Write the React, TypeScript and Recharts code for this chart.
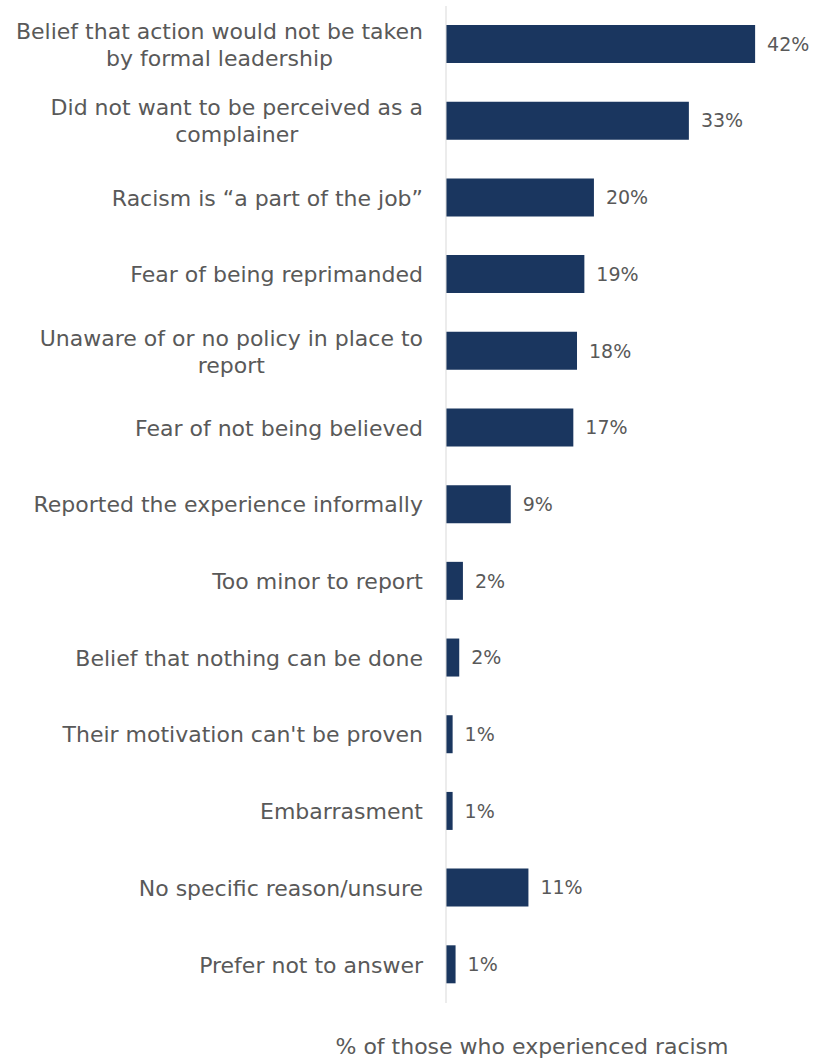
import React from 'react';
import { BarChart, Bar, XAxis, YAxis, LabelList } from 'recharts';

const categories = [
  'Belief that action would not be taken\nby formal leadership',
  'Did not want to be perceived as a\ncomplainer',
  'Racism is \u201ca part of the job\u201d',
  'Fear of being reprimanded',
  'Unaware of or no policy in place to\nreport',
  'Fear of not being believed',
  'Reported the experience informally',
  'Too minor to report',
  'Belief that nothing can be done',
  "Their motivation can't be proven",
  'Embarrasment',
  'No specific reason/unsure',
  'Prefer not to answer',
];
const values = [42.0, 33.0, 20.1, 18.8, 17.8, 17.3, 8.8, 2.3, 1.8, 0.9, 0.9, 11.2, 1.3];
const valueLabels = ['42%', '33%', '20%', '19%', '18%', '17%', '9%', '2%', '2%', '1%', '1%', '11%', '1%'];
const axisTitle = '% of those who experienced racism';

const data = categories.map((c, i) => ({ name: c, value: values[i], label: valueLabels[i] }));

const FONT = 'DejaVu Sans';
const FS = 22;
const LABEL_FS = 19;
const TEXT_COLOR = '#595959';
const BAR_COLOR = '#1a365f';

let ctx: CanvasRenderingContext2D | null = null;
function measure(s: string): number {
  if (!ctx) ctx = document.createElement('canvas').getContext('2d');
  if (!ctx) return s.length * FS * 0.55;
  ctx.font = `${FS}px "${FONT}"`;
  return ctx.measureText(s).width;
}

const CategoryTick = (props: any) => {
  const { x, y, payload } = props;
  const lines = String(payload.value).split('\n');
  const widths = lines.map(measure);
  const W = Math.max(...widths);
  const lh = 27;
  const start = y - ((lines.length - 1) * lh) / 2;
  return (
    <g>
      {lines.map((ln, i) =>
        lines.length === 1 ? (
          <text key={i} x={x} y={start + i * lh} dy="0.36em" textAnchor="end" fill={TEXT_COLOR} fontSize={FS} fontFamily={FONT}>
            {ln}
          </text>
        ) : (
          <text key={i} x={x - W / 2} y={start + i * lh} dy="0.36em" textAnchor="middle" fill={TEXT_COLOR} fontSize={FS} fontFamily={FONT}>
            {ln}
          </text>
        )
      )}
    </g>
  );
};

export default function App() {
  return (
    <div style={{ position: 'absolute', left: 0, top: 0, width: 814, height: 1060, background: '#fff' }}>
      <BarChart
        width={814}
        height={1060}
        data={data}
        layout="vertical"
        margin={{ top: 6, right: 0, bottom: 57, left: 0 }}
        barSize={38}
      >
        <XAxis type="number" domain={[0, 50]} hide />
        <YAxis
          type="category"
          dataKey="name"
          width={446}
          tickSize={0}
          tickMargin={23}
          tickLine={false}
          axisLine={{ stroke: '#d9d9d9', strokeWidth: 1 }}
          tick={<CategoryTick />}
          interval={0}
        />
        <Bar dataKey="value" fill={BAR_COLOR} isAnimationActive={false}>
          <LabelList dataKey="label" position="right" offset={12} fill={TEXT_COLOR} fontSize={LABEL_FS} fontFamily={FONT} />
        </Bar>
      </BarChart>
      <div
        style={{
          position: 'absolute',
          top: 1033,
          left: 232,
          width: 600,
          textAlign: 'center',
          fontFamily: FONT,
          fontSize: 22,
          color: TEXT_COLOR,
          lineHeight: '28px',
        }}
      >
        {axisTitle}
      </div>
    </div>
  );
}
